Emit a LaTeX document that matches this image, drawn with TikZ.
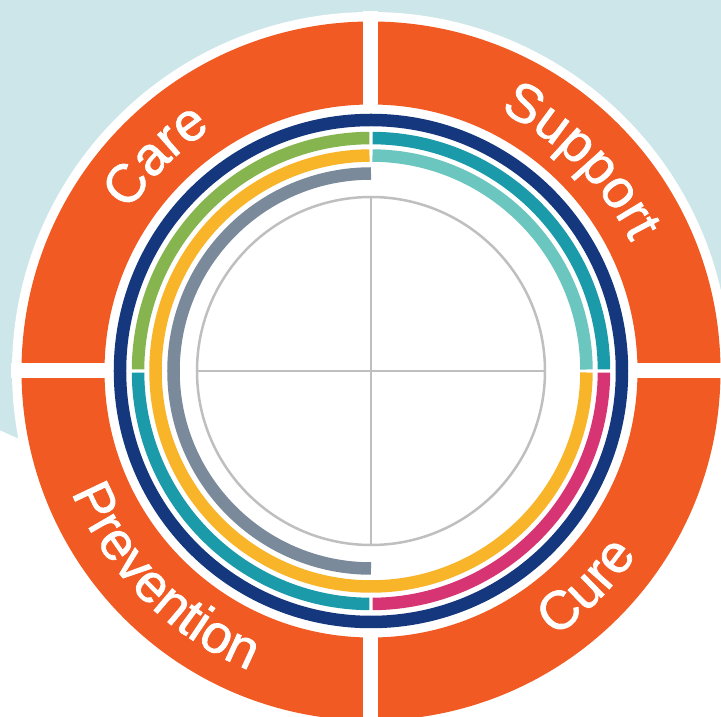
\documentclass[tikz,border=0pt]{standalone}
\usepackage{fontspec}
\setmainfont{Liberation Sans}
\newfontfamily\lblfam{Liberation Sans}[FakeBold=1.3]
\usetikzlibrary{decorations.text}

\definecolor{orng}{HTML}{F15A22}
\definecolor{skyblue}{HTML}{CDE6EA}
\definecolor{navy}{HTML}{14377D}
\definecolor{leaf}{HTML}{86B54F}
\definecolor{teal}{HTML}{1B9AAA}
\definecolor{aqua}{HTML}{6CC6C0}
\definecolor{sun}{HTML}{F8B52A}
\definecolor{slate}{HTML}{7A8A9A}
\definecolor{berry}{HTML}{D63473}
\definecolor{grid}{HTML}{BFBFBF}

\newcommand{\lblfont}{\lblfam\fontsize{54}{60}\selectfont}

\tikzset{
    ring/.style={line width=12.5pt},
    gridline/.style={grid,line width=2.5pt},
    lbl/.style={decorate,decoration={text along path,text align=center,text color=white,text={#1}}}
}

\begin{document}
\begin{tikzpicture}[x=1pt,y=1pt]
        \useasboundingbox (-371,-346) rectangle (350,371);
        \clip (-371,-346) rectangle (350,371);
        \fill[skyblue] (-71,579) circle[radius=705pt];
        \fill[white] (0,0) circle[radius=359pt];
        \fill[orng,even odd rule] (0,0) circle[radius=349.5pt] circle[radius=266.5pt];
        \fill[white] (-7.5,-360) rectangle (7.5,360);
        \fill[white] (-360,-7.5) rectangle (360,7.5);
        \draw[ring,navy] (0,0) circle[radius=251pt];
        \foreach \a/\b/\c in {0.4/89.6/teal, 90.4/179.6/leaf, 180.4/269.6/teal, 270.4/359.6/berry}{
            \draw[ring,\c] (\a:233) arc[start angle=\a, end angle=\b, radius=233pt];
        }
        \foreach \a/\b/\c in {0.4/89.6/aqua, 90.4/359.6/sun}{
            \draw[ring,\c] (\a:215.5) arc[start angle=\a, end angle=\b, radius=215.5pt];
        }
        \draw[ring,slate] (90:197.5) arc[start angle=90, end angle=270, radius=197.5pt];
        \draw[gridline] (0,0) circle[radius=174pt];
        \draw[gridline] (-174,0) -- (174,0);
        \draw[gridline] (0,-174) -- (0,174);
        \path[lbl={|\lblfont|Care}] (175:290) arc[start angle=175, end angle=95, radius=290pt];
        \path[lbl={|\lblfont|Support}] (85:290) arc[start angle=85, end angle=5, radius=290pt];
        \path[lbl={|\lblfont|Prevention}] (180:323) arc[start angle=180, end angle=270, radius=323pt];
        \path[lbl={|\lblfont|Cure}] (275:323) arc[start angle=275, end angle=355, radius=323pt];
    \end{tikzpicture}
\end{document}
